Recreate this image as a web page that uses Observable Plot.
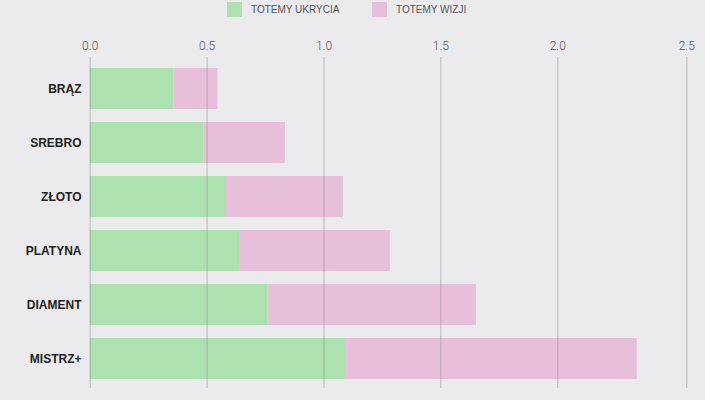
<!DOCTYPE html>
<html>
<head>
<meta charset="utf-8">
<script src="https://cdn.jsdelivr.net/npm/d3@7"></script>
<script src="https://cdn.jsdelivr.net/npm/@observablehq/plot@0.6"></script>
<style>
  html, body { margin: 0; padding: 0; background: #ebebed; }
  #wrap { width: 705px; height: 400px; overflow: hidden; background: #ebebed; }
  #legend { position: relative; height: 20px; font-family: "Liberation Sans", Arial, sans-serif; font-size: 10px; color: #555; }
  .item { position: absolute; top: 2px; display: flex; align-items: center; height: 15px; }
  .sw { width: 15px; height: 15px; margin-right: 9px; }
  svg { display: block; }
</style>
</head>
<body>
<div id="wrap">
  <div id="legend"></div>
  <div id="chart"></div>
</div>
<script>
const tiers = ["BRĄZ", "SREBRO", "ZŁOTO", "PLATYNA", "DIAMENT", "MISTRZ+"];
const series = ["TOTEMY UKRYCIA", "TOTEMY WIZJI"];
const ukrycia = [0.358, 0.486, 0.583, 0.639, 0.760, 1.096];
const wizji = [0.189, 0.349, 0.500, 0.645, 0.892, 1.244];
// the reference's last gridline sits at the domain end (~2.55) and is labelled "2.5"
const xMax = 2.552;
const xTicks = [0, 0.5, 1.0, 1.5, 2.0, xMax];
const xTickLabels = ["0.0", "0.5", "1.0", "1.5", "2.0", "2.5"];
const colors = ["#ade2b0", "#e7bfda"];

const rows = [];
tiers.forEach((t, i) => {
  rows.push({tier: t, series: series[0], value: ukrycia[i]});
  rows.push({tier: t, series: series[1], value: wizji[i]});
});

// legend
const legend = document.getElementById("legend");
const legendLeft = [227, 372];
series.forEach((s, i) => {
  const it = document.createElement("div");
  it.className = "item";
  it.style.left = legendLeft[i] + "px";
  const sw = document.createElement("div");
  sw.className = "sw";
  sw.style.background = colors[i];
  const tx = document.createElement("span");
  tx.textContent = s;
  it.appendChild(sw);
  it.appendChild(tx);
  legend.appendChild(it);
});

const chart = Plot.plot({
  width: 705,
  height: 380,
  marginTop: 37,
  marginBottom: 12,
  marginLeft: 90,
  marginRight: 19,
  style: {background: "transparent", fontFamily: "'Liberation Sans', Arial, sans-serif", overflow: "visible"},
  x: {type: "linear", domain: [0, xMax], range: [89.7, 686.3], label: null},
  y: {domain: tiers, range: [33.1, 373.6], padding: 0.236, label: null},
  color: {domain: series, range: colors},
  marks: [
    Plot.barX(rows, Plot.stackX({x: "value", y: "tier", fill: "series"})),
    Plot.gridX(xTicks, {stroke: "#7a7a7a", strokeOpacity: 0.45, strokeWidth: 1}),
    Plot.axisX(xTicks, {anchor: "top", tickSize: 0, tickPadding: 8,
      tickFormat: (d, i) => xTickLabels[i],
      fontSize: 12, fontWeight: 300, fill: "#555", fontFamily: "Roboto, sans-serif", label: null}),
    Plot.axisY({tickSize: 0, tickPadding: 9, fontSize: 12, fontWeight: "bold", fill: "#222", label: null})
  ]
});
document.getElementById("chart").appendChild(chart);
</script>
</body>
</html>
